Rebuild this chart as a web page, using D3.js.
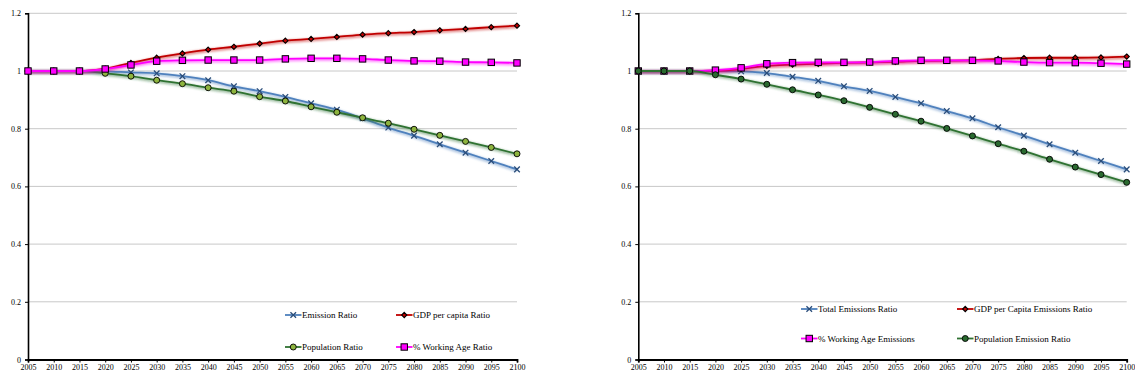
<!DOCTYPE html>
<html>
<head>
<meta charset="utf-8">
<script src="https://cdn.jsdelivr.net/npm/d3@7"></script>
<style>
  html, body { margin: 0; padding: 0; background: #fff; }
  svg { display: block; }
  text { font-family: "Liberation Serif", "Times New Roman", serif; fill: #000; }
</style>
</head>
<body>
<svg id="chart" width="1135" height="380"></svg>
<script>
// Years on the horizontal axis
const years = [2005, 2010, 2015, 2020, 2025, 2030, 2035, 2040, 2045, 2050,
               2055, 2060, 2065, 2070, 2075, 2080, 2085, 2090, 2095, 2100];
const yTicks = [0, 0.2, 0.4, 0.6, 0.8, 1, 1.2];

// Left panel series
const emissionRatio = [1, 1, 1, 0.999, 0.995, 0.992, 0.982, 0.968, 0.947, 0.930,
                       0.910, 0.888, 0.866, 0.836, 0.804, 0.776, 0.746, 0.717, 0.688, 0.659];
const gdpPerCapitaRatio = [1, 1, 1, 1.008, 1.028, 1.046, 1.061, 1.074, 1.084, 1.095,
                           1.105, 1.111, 1.118, 1.126, 1.131, 1.135, 1.141, 1.146, 1.152, 1.157];
const populationRatio = [1, 1, 1, 0.992, 0.982, 0.968, 0.956, 0.942, 0.930, 0.911,
                         0.896, 0.876, 0.857, 0.838, 0.819, 0.798, 0.777, 0.756, 0.735, 0.713];
const workingAgeRatio = [1, 1, 1, 1.007, 1.021, 1.034, 1.037, 1.038, 1.038, 1.038,
                         1.042, 1.044, 1.044, 1.042, 1.038, 1.035, 1.034, 1.031, 1.030, 1.028];

// Right panel series
const totalEmissionsRatio = [1, 1, 1, 1.0, 0.999, 0.993, 0.980, 0.966, 0.947, 0.931,
                             0.910, 0.888, 0.861, 0.836, 0.805, 0.776, 0.746, 0.717, 0.688, 0.659];
const gdpPerCapitaEmissions = [1, 1, 1, 1.001, 1.007, 1.018, 1.022, 1.025, 1.028, 1.030,
                               1.032, 1.035, 1.036, 1.038, 1.042, 1.045, 1.046, 1.046, 1.047, 1.050];
const workingAgeEmissions = [1, 1, 1, 1.003, 1.011, 1.025, 1.029, 1.030, 1.030, 1.031,
                             1.035, 1.037, 1.037, 1.037, 1.035, 1.031, 1.029, 1.029, 1.027, 1.024];
const populationEmission = [1, 1, 1, 0.987, 0.972, 0.954, 0.935, 0.917, 0.897, 0.874,
                            0.850, 0.826, 0.801, 0.775, 0.748, 0.722, 0.694, 0.667, 0.641, 0.614];

const BLUE = "#4f81bd", RED = "#c00000", GREEN = "#2f7232", PINK = "#ff00ff";

const panels = [
  {
    left: 28, right: 517,
    series: [
      { name: "Emission Ratio", values: emissionRatio, color: BLUE, marker: "x" },
      { name: "GDP per capita Ratio", values: gdpPerCapitaRatio, color: RED, marker: "diamond", fill: RED },
      { name: "Population Ratio", values: populationRatio, color: GREEN, marker: "circle", fill: "#8db43e" },
      { name: "% Working Age Ratio", values: workingAgeRatio, color: PINK, marker: "square", fill: PINK }
    ],
    legend: [
      { i: 0, x: 285, y: 315 }, { i: 1, x: 396, y: 315 },
      { i: 2, x: 285, y: 347 }, { i: 3, x: 396, y: 347 }
    ]
  },
  {
    left: 638.3, right: 1126.7,
    series: [
      { name: "Total Emissions Ratio", values: totalEmissionsRatio, color: BLUE, marker: "x" },
      { name: "GDP per Capita Emissions Ratio", values: gdpPerCapitaEmissions, color: RED, marker: "diamond", fill: RED },
      { name: "% Working Age Emissions", values: workingAgeEmissions, color: PINK, marker: "square", fill: PINK },
      { name: "Population Emission Ratio", values: populationEmission, color: GREEN, marker: "circle", fill: "#2a6a30" }
    ],
    legend: [
      { i: 0, x: 801, y: 309 }, { i: 1, x: 957, y: 309 },
      { i: 2, x: 801, y: 338.5 }, { i: 3, x: 957, y: 338.5 }
    ]
  }
];

const svg = d3.select("#chart");
const plotTop = 13.3, plotBottom = 359.5;

// soft shadow used beneath the series lines
const defs = svg.append("defs");
const f = defs.append("filter").attr("id", "soft").attr("x", "-5%").attr("y", "-20%")
  .attr("width", "110%").attr("height", "140%");
f.append("feGaussianBlur").attr("stdDeviation", 1.2);

function drawMarker(g, type, x, y, s) {
  if (type === "x") {
    const r = 2.8;
    g.append("path")
      .attr("d", `M${x - r},${y - r}L${x + r},${y + r}M${x - r},${y + r}L${x + r},${y - r}`)
      .attr("stroke", "#2a4d7a").attr("stroke-width", 1.3).attr("fill", "none");
  } else if (type === "diamond") {
    const r = 2.6;
    g.append("path")
      .attr("d", `M${x},${y - r}L${x + r},${y}L${x},${y + r}L${x - r},${y}Z`)
      .attr("fill", s.fill).attr("stroke", "#000").attr("stroke-width", 1.1);
  } else if (type === "circle") {
    g.append("circle").attr("cx", x).attr("cy", y).attr("r", 3)
      .attr("fill", s.fill).attr("stroke", "#000").attr("stroke-width", 0.9);
  } else if (type === "square") {
    const h = 3.2;
    g.append("rect").attr("x", x - h).attr("y", y - h).attr("width", 2 * h).attr("height", 2 * h)
      .attr("fill", s.fill).attr("stroke", "#000").attr("stroke-width", 1);
  }
}

panels.forEach(p => {
  const x = d3.scaleLinear().domain([2005, 2100]).range([p.left, p.right]);
  const y = d3.scaleLinear().domain([0, 1.2]).range([plotBottom, plotTop]);
  const g = svg.append("g");

  // horizontal gridlines
  g.append("g").selectAll("line").data(yTicks.filter(t => t > 0)).join("line")
    .attr("x1", p.left).attr("x2", p.right)
    .attr("y1", d => y(d)).attr("y2", d => y(d))
    .attr("stroke", "#c8c8c8").attr("stroke-width", 1);

  // y axis
  const ya = g.append("g").attr("transform", `translate(${p.left},0)`)
    .call(d3.axisLeft(y).tickValues(yTicks).tickSize(3).tickPadding(4)
      .tickFormat(d => d3.format("~g")(d)));
  ya.select(".domain").attr("stroke", "#000").attr("stroke-width", 1.6);
  ya.selectAll(".tick line").attr("stroke", "#000").attr("stroke-width", 1);
  ya.selectAll("text").style("font-family", "Liberation Serif, serif").style("font-size", "8px");

  // x axis
  const xa = g.append("g").attr("transform", `translate(0,${plotBottom})`)
    .call(d3.axisBottom(x).tickValues(years).tickSize(3).tickPadding(2).tickFormat(d3.format("d")));
  xa.select(".domain").attr("stroke", "#000").attr("stroke-width", 1.8);
  xa.selectAll(".tick line").attr("stroke", "#000").attr("stroke-width", 1);
  xa.selectAll("text").style("font-family", "Liberation Serif, serif").style("font-size", "8px");

  const line = d3.line().x((d, i) => x(years[i])).y(d => y(d)).curve(d3.curveMonotoneX);

  // lines with a soft shadow
  p.series.forEach(s => {
    g.append("path").datum(s.values).attr("d", line)
      .attr("fill", "none").attr("stroke", s.color).attr("stroke-opacity", 0.45)
      .attr("stroke-width", 3.2).attr("filter", "url(#soft)")
      .attr("transform", "translate(0,1)");
    g.append("path").datum(s.values).attr("d", line)
      .attr("fill", "none").attr("stroke", s.color).attr("stroke-width", 1.8);
    const mg = g.append("g");
    s.values.forEach((v, i) => drawMarker(mg, s.marker, x(years[i]), y(v), s));
  });

  // legend
  p.legend.forEach(l => {
    const s = p.series[l.i];
    const lg = g.append("g");
    lg.append("line").attr("x1", l.x).attr("x2", l.x + 16.5).attr("y1", l.y).attr("y2", l.y)
      .attr("stroke", s.color).attr("stroke-width", 1.8);
    drawMarker(lg, s.marker, l.x + 8.25, l.y, s);
    lg.append("text").attr("x", l.x + 17).attr("y", l.y + 3)
      .style("font-size", "9px").text(s.name);
  });
});
</script>
</body>
</html>
